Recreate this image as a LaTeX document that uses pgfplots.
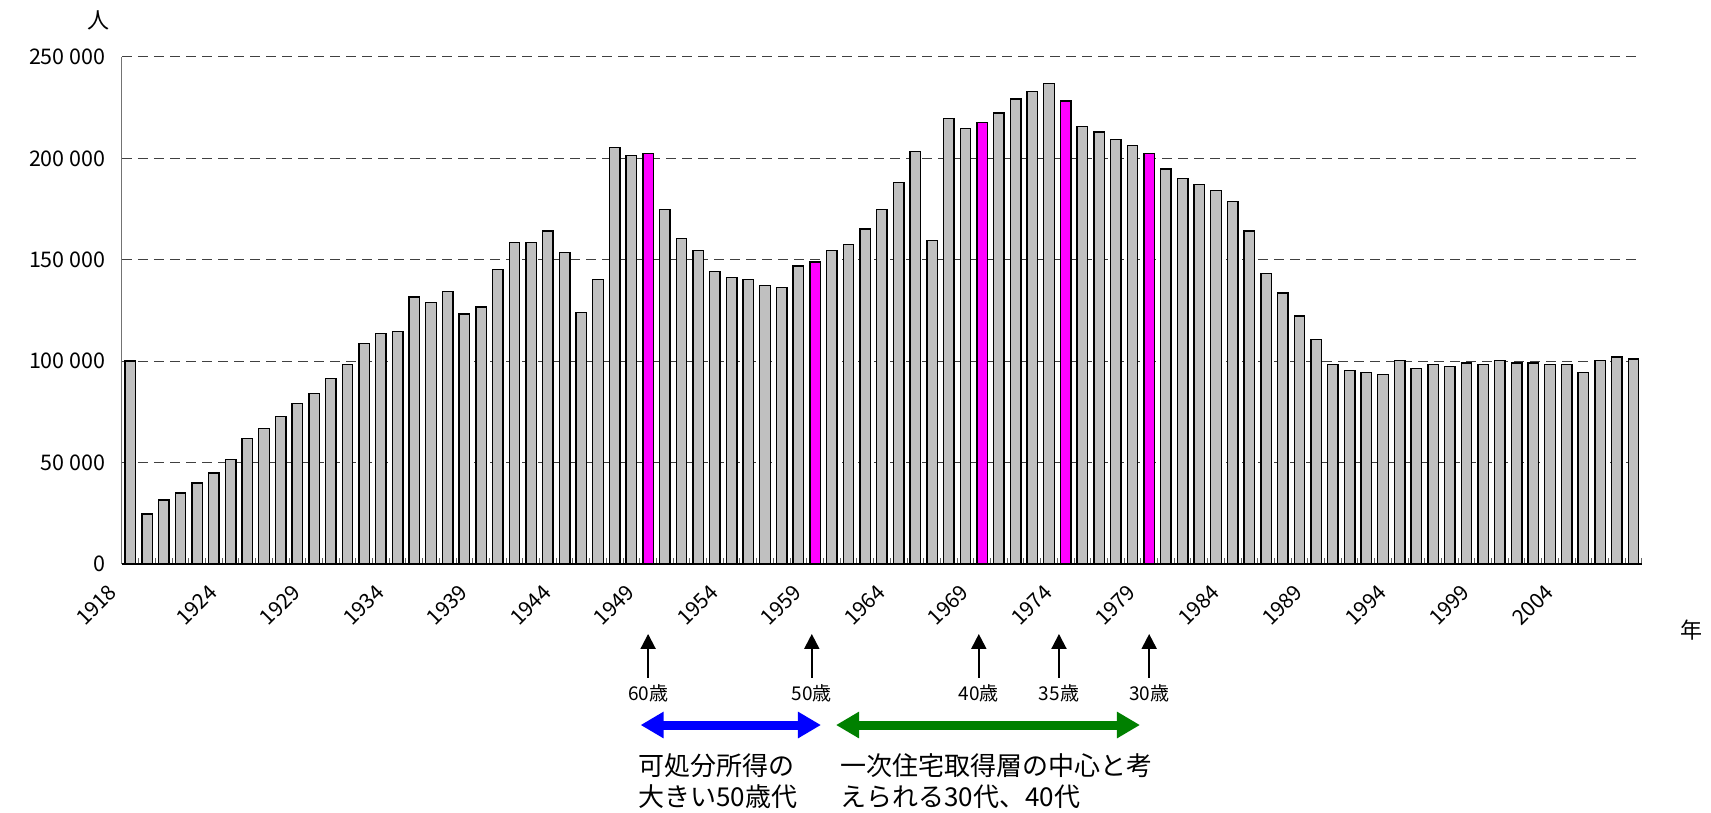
\documentclass[border=0pt]{standalone}
\usepackage{fontspec}
\setmainfont{Noto Sans CJK JP}
\usepackage{pgfplots}
\pgfplotsset{compat=1.18}
\usetikzlibrary{arrows.meta}
\definecolor{barGray}{HTML}{C0C0C0}
\definecolor{barMag}{HTML}{FF00FF}
\definecolor{arrBlue}{HTML}{0000FF}
\definecolor{arrGreen}{HTML}{008000}
\begin{document}
\begin{tikzpicture}
\useasboundingbox (0pt,0pt) rectangle (1711pt,813pt);
\begin{axis}[
  at={(122pt,249pt)}, anchor=south west,
  scale only axis, width=1520pt, height=507pt,
  xmin=1917.5, xmax=2008.5, ymin=0, ymax=250000,
  enlargelimits=false, clip=false,
  scaled y ticks=false,
  axis x line*=bottom, axis y line*=left,
  x axis line style={black, line width=1.5pt, -},
  y axis line style={black!55, line width=1pt, -},
  ymajorgrids,
  major grid style={draw=black!75, line width=1pt, dash pattern=on 10pt off 6pt},
  ytick={0,50000,100000,150000,200000,250000},
  yticklabels={0,50 000,100 000,150 000,200 000,250 000},
  yticklabel style={font=\fontsize{21.5}{24}\selectfont, xshift=-13pt},
  ytick style={draw=none},
  xtick={1918,1924,1929,...,2004},
  xticklabels={1918,1924,1929,1934,1939,1944,1949,1954,1959,1964,1969,1974,1979,1984,1989,1994,1999,2004},
  xticklabel style={font=\fontsize{21}{23}\selectfont, xshift=-15pt, yshift=-22pt, rotate=45, anchor=east},
  major x tick style={draw=none},
  minor xtick={1917.5,1918.5,...,2008.5},
  minor tick length=6pt,
  minor x tick style={black!60, line width=1pt},
  xtick align=inside,
]
\addplot[ybar, bar width=10.5pt, bar shift=0pt, fill=barGray, draw=black, line width=1.4pt] coordinates {
(1918,100000) (1919,24600) (1920,31600) (1921,35100) (1922,39900) (1923,44800)
(1924,51400) (1925,62000) (1926,66700) (1927,72600) (1928,79200) (1929,84100)
(1930,91600) (1931,98300) (1932,108800) (1933,113600) (1934,114500) (1935,131700)
(1936,128900) (1937,134500) (1938,123200) (1939,126800) (1940,145100) (1941,158500)
(1942,158500) (1943,164200) (1944,153600) (1945,124100) (1946,140200) (1947,205400)
(1948,201400) (1950,174800) (1951,160400) (1952,154600) (1953,144200)
(1954,141200) (1955,140200) (1956,137400) (1957,136400) (1958,147000)
(1960,154600) (1961,157400) (1962,165200) (1963,174800) (1964,188000) (1965,203300)
(1966,159500) (1967,219600) (1968,214700) (1970,222400) (1971,229200)
(1972,233000) (1973,237000) (1975,215800) (1976,213000) (1977,209200)
(1978,206300) (1980,194800) (1981,190100) (1982,187100) (1983,184200)
(1984,178600) (1985,164200) (1986,143200) (1987,133600) (1988,122300) (1989,110700)
(1990,98300) (1991,95400) (1992,94500) (1993,93500) (1994,100200) (1995,96400)
(1996,98300) (1997,97300) (1998,99200) (1999,98300) (2000,100200) (2001,99200)
(2002,99200) (2003,98300) (2004,98300) (2005,94500) (2006,100200) (2007,102000)
(2008,101100)
};
\addplot[ybar, bar width=10.5pt, bar shift=0pt, fill=barMag, draw=black, line width=1.4pt] coordinates {
(1949,202400) (1959,148900) (1969,217700) (1974,228300) (1979,202400)
};
% age arrows
\foreach \xx/\lab in {1949/60歳,1958.8/50歳,1968.8/40歳,1973.6/35歳,1979/30歳}{
  \edef\tmp{\noexpand\draw[line width=2pt, -{Triangle[width=15pt,length=15pt]}] (axis cs:\xx,-56200) -- (axis cs:\xx,-34500);
  \noexpand\node[font=\noexpand\fontsize{19}{21}\noexpand\selectfont] at (axis cs:\xx,-63800) {\lab};}
  \tmp
}
\draw[arrBlue, line width=9pt, {Triangle[width=25pt,length=23pt]}-{Triangle[width=25pt,length=23pt]}] (axis cs:1948.55,-79400) -- (axis cs:1959.35,-79400);
\draw[arrGreen, line width=9pt, {Triangle[width=25pt,length=23pt]}-{Triangle[width=25pt,length=23pt]}] (axis cs:1960.25,-79400) -- (axis cs:1978.45,-79400);
\node[anchor=north west, inner sep=0pt, align=left, font=\fontsize{26}{31}\selectfont] at (axis cs:1948.4,-93500) {可処分所得の\\大きい50歳代};
\node[anchor=north west, inner sep=0pt, align=left, font=\fontsize{26}{31}\selectfont] at (axis cs:1960.5,-93500) {一次住宅取得層の中心と考\\えられる30代、40代};
\end{axis}
\node[font=\fontsize{22}{24}\selectfont] at (98pt,793pt) {人};
\node[font=\fontsize{22}{24}\selectfont] at (1691pt,183pt) {年};
\end{tikzpicture}
\end{document}
